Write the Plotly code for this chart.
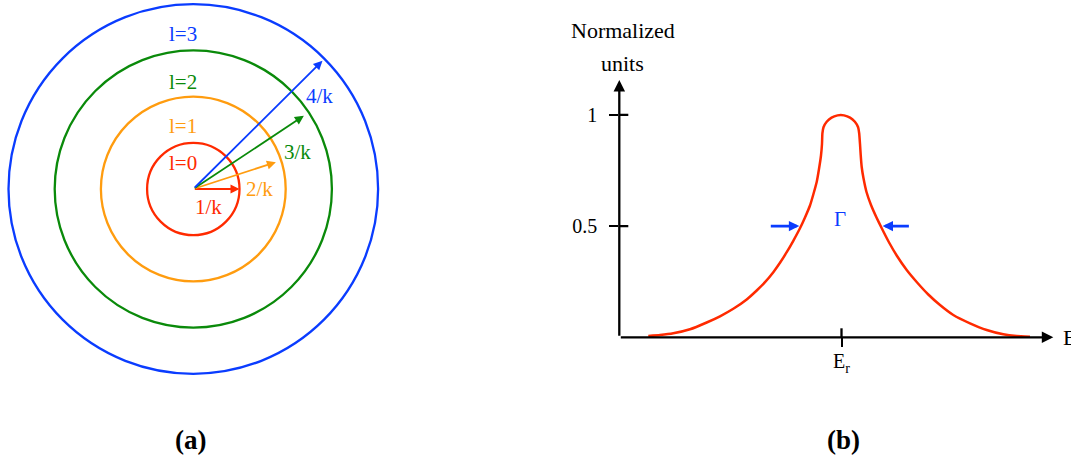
import math
import plotly.graph_objects as go

# ---------------- data ----------------
# panel (a): partial-wave circles, radii in units of 1/k
orders = ["l=0", "l=1", "l=2", "l=3"]
radii = [1, 2, 3, 4]
arrow_labels = ["1/k", "2/k", "3/k", "4/k"]
arrow_lengths = [1.0, 1.88, 2.87, 3.94]
arrow_angles_deg = [0, 18, 33.5, 44.8]

# panel (b): resonance curve (E in units of E_r, normalized height)
left_E = [0.1305, 0.1832, 0.2430, 0.3182, 0.3933, 0.4532, 0.5131, 0.5734, 0.6184, 0.6557, 0.6931,
          0.7232, 0.7534, 0.7831, 0.8132, 0.8357, 0.8582, 0.8731, 0.8884, 0.8987, 0.9077, 0.9122]
left_y = [0.0058, 0.0103, 0.0180, 0.0360, 0.0665, 0.0944, 0.1281, 0.1700, 0.2104, 0.2478, 0.2927,
          0.3350, 0.3826, 0.4339, 0.4901, 0.5387, 0.5926, 0.6421, 0.6983, 0.7568, 0.8174, 0.8692]
cap_E = [0.9140, 0.9190, 0.9334, 0.9554, 0.9824, 0.9968, 1.0113, 1.0383, 1.0603, 1.0747, 1.0797]
cap_y = [0.9164, 0.9447, 0.9694, 0.9879, 0.9978, 0.9991, 0.9978, 0.9879, 0.9694, 0.9447, 0.9164]
right_E = [1.0833, 1.0864, 1.0909, 1.0990, 1.1125, 1.1328, 1.1575, 1.1800, 1.2129, 1.2484, 1.2934,
           1.3384, 1.3906, 1.4433, 1.5032, 1.5783, 1.6535, 1.7282, 1.7885, 1.8483]
right_y = [0.8692, 0.8201, 0.7658, 0.7149, 0.6533, 0.5950, 0.5387, 0.4924, 0.4285, 0.3678, 0.3026,
           0.2487, 0.1924, 0.1452, 0.1003, 0.0629, 0.0328, 0.0135, 0.0058, 0.0027]
y_tick_vals = [0.5, 1]
y_tick_text = ["0.5", "1"]
x_tick_vals = [1]
x_tick_text = ["E<sub>r</sub>"]
half_width_left = 0.810   # left edge of Gamma at half maximum
half_width_right = 1.185  # right edge of Gamma at half maximum

# ---------------- styles / layout ----------------
W, H = 1071, 456
colors = ["#ff2a00", "#ff9c0f", "#0a8a0a", "#0a3cff"]
curve_color = "#ff2a00"
gamma_color = "#0a3cff"
FONT = "Liberation Serif, Times New Roman, serif"

# panel (a) pixel geometry
a_cx, a_cy, a_unit = 193.3, 189.0, 46.2
a_dom = [0.0, 0.5]
a_wpx = (a_dom[1] - a_dom[0]) * W
ax_range = [-a_cx / a_unit, (a_wpx - a_cx) / a_unit]
ay_range = [-(H - a_cy) / a_unit, a_cy / a_unit]

# panel (b) pixel geometry
b_x0px, b_y0px = 619.3, 337.3
b_xunit, b_yunit = 222.2, 222.4
b_dom = [b_x0px / W, 1.0]
bx_range = [0, (W - b_x0px) / b_xunit]
by_range = [-(H - b_y0px) / b_yunit, b_y0px / b_yunit]

fig = go.Figure()

# circles
shapes = []
for r, c in zip(radii, colors):
    shapes.append(dict(type="circle", xref="x", yref="y", x0=-r, x1=r, y0=-r, y1=r,
                       line=dict(color=c, width=2.3)))

annotations = []
# arrows from center
for L, ang, c in zip(arrow_lengths, arrow_angles_deg, colors):
    t = math.radians(ang)
    annotations.append(dict(x=L * math.cos(t), y=L * math.sin(t), ax=0, ay=0,
                            xref="x", yref="y", axref="x", ayref="y", text="",
                            showarrow=True, arrowhead=2, arrowsize=1, arrowwidth=1.8,
                            arrowcolor=c, standoff=0))

# order labels and arrow labels (positions in units of 1/k)
order_label_pos = [(-0.23, 0.556), (-0.23, 1.364), (-0.23, 2.323), (-0.23, 3.355)]
arrow_label_pos = [(0.325, -0.383), (1.43, 0.0), (2.25, 0.807), (2.74, 2.02)]
for txt, (x, y), c in zip(orders, order_label_pos, colors):
    annotations.append(dict(x=x, y=y, xref="x", yref="y", text=txt, showarrow=False,
                            font=dict(family=FONT, size=21, color=c)))
for txt, (x, y), c in zip(arrow_labels, arrow_label_pos, colors):
    annotations.append(dict(x=x, y=y, xref="x", yref="y", text=txt, showarrow=False,
                            font=dict(family=FONT, size=21, color=c)))

# panel (b) curve
curve_E = left_E + cap_E + right_E
curve_y = left_y + cap_y + right_y
fig.add_trace(go.Scatter(x=curve_E, y=curve_y, xaxis="x2", yaxis="y2", mode="lines",
                         line=dict(color=curve_color, width=2.5, shape="spline", smoothing=0.4),
                         cliponaxis=False, hoverinfo="skip", showlegend=False))
# dummy trace for panel (a) axes
fig.add_trace(go.Scatter(x=[0], y=[0], xaxis="x", yaxis="y", mode="markers",
                         marker=dict(size=1, color="rgba(0,0,0,0)"), showlegend=False,
                         hoverinfo="skip"))

# axis arrows of panel (b)
y_top = (b_y0px - 80) / b_yunit
x_end = (1053.3 - b_x0px) / b_xunit
annotations.append(dict(x=0, y=y_top, ax=0, ay=0, xref="x2", yref="y2", axref="x2", ayref="y2",
                        text="", showarrow=True, arrowhead=2, arrowsize=1, arrowwidth=2.3,
                        arrowcolor="black", standoff=0))
annotations.append(dict(x=x_end, y=0, ax=0, ay=0, xref="x2", yref="y2", axref="x2", ayref="y2",
                        text="", showarrow=True, arrowhead=2, arrowsize=1, arrowwidth=2.3,
                        arrowcolor="black", standoff=0))
# inner halves of tick marks
tick_in_x = 9 / b_xunit
tick_in_y = 9 / b_yunit
for v in y_tick_vals:
    shapes.append(dict(type="line", xref="x2", yref="y2", x0=0, x1=tick_in_x, y0=v, y1=v,
                       line=dict(color="black", width=2.3)))
for v in x_tick_vals:
    shapes.append(dict(type="line", xref="x2", yref="y2", x0=v, x1=v, y0=0, y1=tick_in_y,
                       line=dict(color="black", width=2.3)))

# Gamma arrows
annotations.append(dict(x=half_width_left, y=0.5, ax=half_width_left - 0.135, ay=0.5,
                        xref="x2", yref="y2", axref="x2", ayref="y2", text="", showarrow=True,
                        arrowhead=2, arrowsize=0.8, arrowwidth=2.6, arrowcolor=gamma_color, standoff=0))
annotations.append(dict(x=half_width_right, y=0.5, ax=half_width_right + 0.125, ay=0.5,
                        xref="x2", yref="y2", axref="x2", ayref="y2", text="", showarrow=True,
                        arrowhead=2, arrowsize=0.8, arrowwidth=2.6, arrowcolor=gamma_color, standoff=0))
annotations.append(dict(x=(840 - b_x0px) / b_xunit, y=(b_y0px - 219) / b_yunit, xref="x2", yref="y2",
                        text="Γ", showarrow=False, font=dict(family=FONT, size=21, color=gamma_color)))

# axis titles of panel (b)
annotations.append(dict(x=(622.7 - b_x0px) / b_xunit, y=(b_y0px - 30.7) / b_yunit, xref="x2", yref="y2",
                        text="Normalized", showarrow=False, font=dict(family=FONT, size=22, color="black")))
annotations.append(dict(x=(622.7 - b_x0px) / b_xunit, y=(b_y0px - 63.3) / b_yunit, xref="x2", yref="y2",
                        text="units", showarrow=False, font=dict(family=FONT, size=22, color="black")))
annotations.append(dict(x=(1061 - b_x0px) / b_xunit, y=0, xref="x2", yref="y2", xanchor="left",
                        text="E", showarrow=False, font=dict(family=FONT, size=22, color="black")))

# panel captions
annotations.append(dict(x=190.5 / W, y=1 - 440 / H, xref="paper", yref="paper", text="<b>(a)</b>",
                        xanchor="center", yanchor="middle",
                        showarrow=False, font=dict(family=FONT, size=27, color="black")))
annotations.append(dict(x=843 / W, y=1 - 440 / H, xref="paper", yref="paper", text="<b>(b)</b>",
                        xanchor="center", yanchor="middle",
                        showarrow=False, font=dict(family=FONT, size=27, color="black")))

hidden = dict(showgrid=False, zeroline=False, showline=False, showticklabels=False, ticks="")
fig.update_layout(
    width=W, height=H, margin=dict(l=0, r=0, t=0, b=0),
    paper_bgcolor="white", plot_bgcolor="rgba(0,0,0,0)",
    showlegend=False,
    xaxis=dict(domain=a_dom, range=ax_range, **hidden),
    yaxis=dict(domain=[0, 1], range=ay_range, **hidden),
    xaxis2=dict(domain=b_dom, range=bx_range, anchor="free", position=(H - b_y0px) / H,
                showgrid=False, zeroline=False, showline=False,
                tickvals=x_tick_vals, ticktext=x_tick_text, ticks="outside", ticklen=9,
                tickwidth=2.3, tickcolor="black", ticklabelstandoff=-3,
                tickfont=dict(family=FONT, size=20, color="black")),
    yaxis2=dict(domain=[0, 1], range=by_range, anchor="x2",
                showgrid=False, zeroline=False, showline=False,
                tickvals=y_tick_vals, ticktext=y_tick_text, ticks="outside", ticklen=9,
                tickwidth=2.3, tickcolor="black", ticklabelstandoff=8,
                tickfont=dict(family=FONT, size=20, color="black")),
    shapes=shapes, annotations=annotations,
)

fig.write_html("out.html")
